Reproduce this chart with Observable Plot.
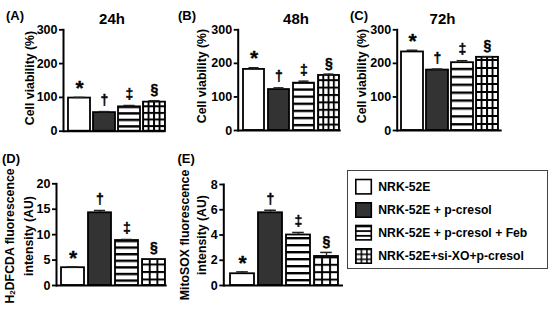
<!DOCTYPE html>
<html><head><meta charset="utf-8">
<script src="https://cdn.jsdelivr.net/npm/d3@7"></script>
<script src="https://cdn.jsdelivr.net/npm/@observablehq/plot@0.6"></script>
<style>
body{margin:0;background:white;}
#fig{position:relative;width:553px;height:313px;background:white;font-family:"Liberation Sans",Arial,sans-serif;font-weight:bold;color:black;overflow:hidden}
.abs{position:absolute;white-space:nowrap;line-height:1}
.ylab{position:absolute;white-space:nowrap;text-align:center;transform:translate(-50%,-50%) rotate(-90deg);font-size:12.3px;line-height:17px}
</style></head><body><div id="fig"></div>
<script>
// ---- data ----
const groups = ["NRK-52E", "NRK-52E + p-cresol", "NRK-52E + p-cresol + Feb", "NRK-52E+si-XO+p-cresol"];
const symbols = ["*", "†", "‡", "§"];
const viability24h = [98, 55, 72, 86];
const viability24hErr = [2, 3, 4, 4];
const viability48h = [182, 122, 141, 164];
const viability48hErr = [5, 5, 6, 4];
const viability72h = [234, 180, 202, 218];
const viability72hErr = [5, 3, 6, 2];
const h2dfcda = [3.5, 14.3, 8.85, 5.1];
const h2dfcdaErr = [0.15, 0.45, 0.2, 0.15];
const mitosox = [0.93, 5.76, 4.0, 2.3];
const mitosoxErr = [0.15, 0.2, 0.2, 0.32];
const viabilityTicks = [0, 100, 200, 300];
const h2dfcdaTicks = [0, 5, 10, 15, 20];
const mitosoxTicks = [0, 2, 4, 6, 8];
const panelLetters = ["(A)", "(B)", "(C)", "(D)", "(E)"];
const panelTitles = ["24h", "48h", "72h"];

// ---- layout ----
const panels = [
  {id:"A", values:viability24h, errors:viability24hErr, ticks:viabilityTicks, yMax:300,
   left:0, top:0, width:175, height:150, mL:63, mR:9.5, mT:29.3, mB:19.3, inL:4.7, inR:1.2, pi:0.136, stripe:6.5, gridH:6.6, cols:4},
  {id:"B", values:viability48h, errors:viability48hErr, ticks:viabilityTicks, yMax:300,
   left:175, top:0, width:180, height:150, mL:62.7, mR:14.3, mT:29.3, mB:20, inL:4, inR:0.7, pi:0.145, stripe:7.1, gridH:7.4, cols:4},
  {id:"C", values:viability72h, errors:viability72hErr, ticks:viabilityTicks, yMax:300,
   left:355, top:0, width:198, height:150, mL:41.7, mR:51.3, mT:29.3, mB:20, inL:4.3, inR:2.7, pi:0.11, stripe:7.9, gridH:8, cols:4},
  {id:"D", values:h2dfcda, errors:h2dfcdaErr, ticks:h2dfcdaTicks, yMax:20,
   left:0, top:150, width:175, height:163, mL:56, mR:8.3, mT:33.3, mB:28, inL:5, inR:1, pi:0.13, stripe:6.6, gridH:7.5, cols:3},
  {id:"E", values:mitosox, errors:mitosoxErr, ticks:mitosoxTicks, yMax:8,
   left:175, top:150, width:175, height:163, mL:48.3, mR:7, mT:34, mB:28, inL:5.7, inR:4, pi:0.127, stripe:7, gridH:7.4, cols:3}
];

const fig = d3.select("#fig");

function addPatterns(svgSel, id, x4, bw, y0, stripe, gridH, cols) {
  const defs = svgSel.insert("defs", ":first-child");
  const h = defs.append("pattern").attr("id", id + "-h").attr("patternUnits", "userSpaceOnUse")
    .attr("x", 0).attr("y", y0 + 1).attr("width", 10).attr("height", stripe);
  h.append("rect").attr("width", 10).attr("height", stripe).attr("fill", "white");
  h.append("rect").attr("width", 10).attr("height", 2.4).attr("fill", "black");
  const cw = bw / cols;
  const g = defs.append("pattern").attr("id", id + "-g").attr("patternUnits", "userSpaceOnUse")
    .attr("x", x4 - 0.9).attr("y", y0 + 1).attr("width", cw).attr("height", gridH);
  g.append("rect").attr("width", cw).attr("height", gridH).attr("fill", "white");
  g.append("rect").attr("width", cw).attr("height", 2).attr("fill", "black");
  g.append("rect").attr("width", 1.9).attr("height", gridH).attr("fill", "black");
}

panels.forEach(p => {
  const data = groups.map((g, i) => ({group: g, value: p.values[i], top: p.values[i] + p.errors[i], sym: symbols[i]}));
  const r0 = p.mL + p.inL, r1 = p.width - p.mR - p.inR;
  const step = (r1 - r0) / (groups.length - p.pi);
  const bw = step * (1 - p.pi);
  const cap = bw * 0.25;
  const svg = Plot.plot({
    width: p.width, height: p.height,
    marginLeft: p.mL, marginRight: p.mR, marginTop: p.mT, marginBottom: p.mB,
    style: {background: "transparent", fontFamily: "'Liberation Sans', Arial, sans-serif", fontSize: "12px", fontWeight: "bold", color: "black", overflow: "visible"},
    x: {type: "band", domain: groups, paddingInner: p.pi, paddingOuter: 0, insetLeft: p.inL, insetRight: p.inR, axis: null},
    y: {domain: [0, p.yMax], axis: null},
    color: {domain: groups, range: ["white", "#333", `url(#${p.id}-h)`, `url(#${p.id}-g)`]},
    marks: [
      Plot.barY(data, {x: "group", y: "value", fill: "group", stroke: "black", strokeWidth: 1.8}),
      Plot.ruleX(data, {x: "group", y1: "value", y2: "top", stroke: "#222", strokeWidth: 1.3}),
      Plot.tickY(data, {x: "group", y: "top", stroke: "#222", strokeWidth: 1.5, insetLeft: cap, insetRight: cap}),
      Plot.text(data, {filter: d => d.sym === "*", x: "group", y: "top", text: "sym", dy: -9, fontSize: 21, fill: "black", stroke: "black", strokeWidth: 0.3, fontWeight: "bold"}),
      Plot.text(data, {filter: d => d.sym !== "*", x: "group", y: "top", text: "sym", dy: -11, fontSize: 14, fill: "black", stroke: "black", strokeWidth: 0.4, fontWeight: "bold"}),
      Plot.ruleY([0], {stroke: "black", strokeWidth: 2}),
      Plot.frame({anchor: "left", stroke: "black", strokeWidth: 2}),
      Plot.axisY(p.ticks, {tickSize: 4, tickPadding: 2, strokeWidth: 1.8, fontSize: 12.5, label: null})
    ]
  });
  const xs = svg.scale("x"), ys = svg.scale("y");
  addPatterns(d3.select(svg), p.id, xs.apply(groups[3]), xs.bandwidth, ys.apply(0), p.stripe, p.gridH, p.cols);
  d3.select(svg).style("position", "absolute").style("left", p.left + "px").style("top", p.top + "px");
  fig.node().appendChild(svg);
});

// ---- text: panel letters, titles, y labels ----
const letterPos = [[6, 9], [178, 9], [350, 9], [2, 152], [177.5, 152]];
panelLetters.forEach((t, i) => {
  fig.append("div").attr("class", "abs").style("left", letterPos[i][0] + "px").style("top", letterPos[i][1] + "px")
    .style("font-size", "13px").text(t);
});
const titleX = [112, 296, 442.5];
panelTitles.forEach((t, i) => {
  fig.append("div").attr("class", "abs").style("left", titleX[i] + "px").style("top", "11px")
    .style("transform", "translateX(-50%)").style("font-size", "15px").text(t);
});
const ylabs = [
  {html: "Cell viability (%)", x: 30, y: 78},
  {html: "Cell viability (%)", x: 202, y: 76},
  {html: "Cell viability (%)", x: 362, y: 76},
  {html: "H<sub style='font-size:8px;vertical-align:-1px'>2</sub>DFCDA fluorescence<br>intensity (AU)", x: 19.5, y: 236},
  {html: "MitoSOX fluorescence<br>intensity (AU)", x: 194, y: 235}
];
ylabs.forEach(l => {
  fig.append("div").attr("class", "ylab").style("left", l.x + "px").style("top", l.y + "px").html(l.html);
});

// ---- legend ----
const leg = fig.append("svg").attr("width", 202).attr("height", 100)
  .style("position", "absolute").style("left", "347px").style("top", "170px");
const ldefs = leg.append("defs");
const lh = ldefs.append("pattern").attr("id", "L-h").attr("patternUnits", "userSpaceOnUse").attr("x", 0).attr("y", 55.5).attr("width", 10).attr("height", 4.7);
lh.append("rect").attr("width", 10).attr("height", 4.7).attr("fill", "white");
lh.append("rect").attr("width", 10).attr("height", 1.8).attr("fill", "black");
const lg = ldefs.append("pattern").attr("id", "L-g").attr("patternUnits", "userSpaceOnUse").attr("x", 8).attr("y", 78.5).attr("width", 5.6).attr("height", 5);
lg.append("rect").attr("width", 5.6).attr("height", 5).attr("fill", "white");
lg.append("rect").attr("width", 5.6).attr("height", 1.5).attr("fill", "black");
lg.append("rect").attr("width", 1.5).attr("height", 5).attr("fill", "black");
leg.append("rect").attr("x", 0.5).attr("y", 0.5).attr("width", 200).attr("height", 98).attr("fill", "white").attr("stroke", "#444").attr("stroke-width", 1);
const legFills = ["white", "#333", "url(#L-h)", "url(#L-g)"];
const legY = [16.7, 40, 62.7, 86];
groups.forEach((g, i) => {
  leg.append("rect").attr("x", 8.8).attr("y", legY[i] - 7.2).attr("width", 15.5).attr("height", 14.4)
    .attr("fill", legFills[i]).attr("stroke", "black").attr("stroke-width", 1.6);
  leg.append("text").attr("x", 31.3).attr("y", legY[i] + 4.3).attr("font-size", 12.2).attr("font-weight", "bold")
    .attr("font-family", "'Liberation Sans', Arial, sans-serif").text(g);
});
</script></body></html>
